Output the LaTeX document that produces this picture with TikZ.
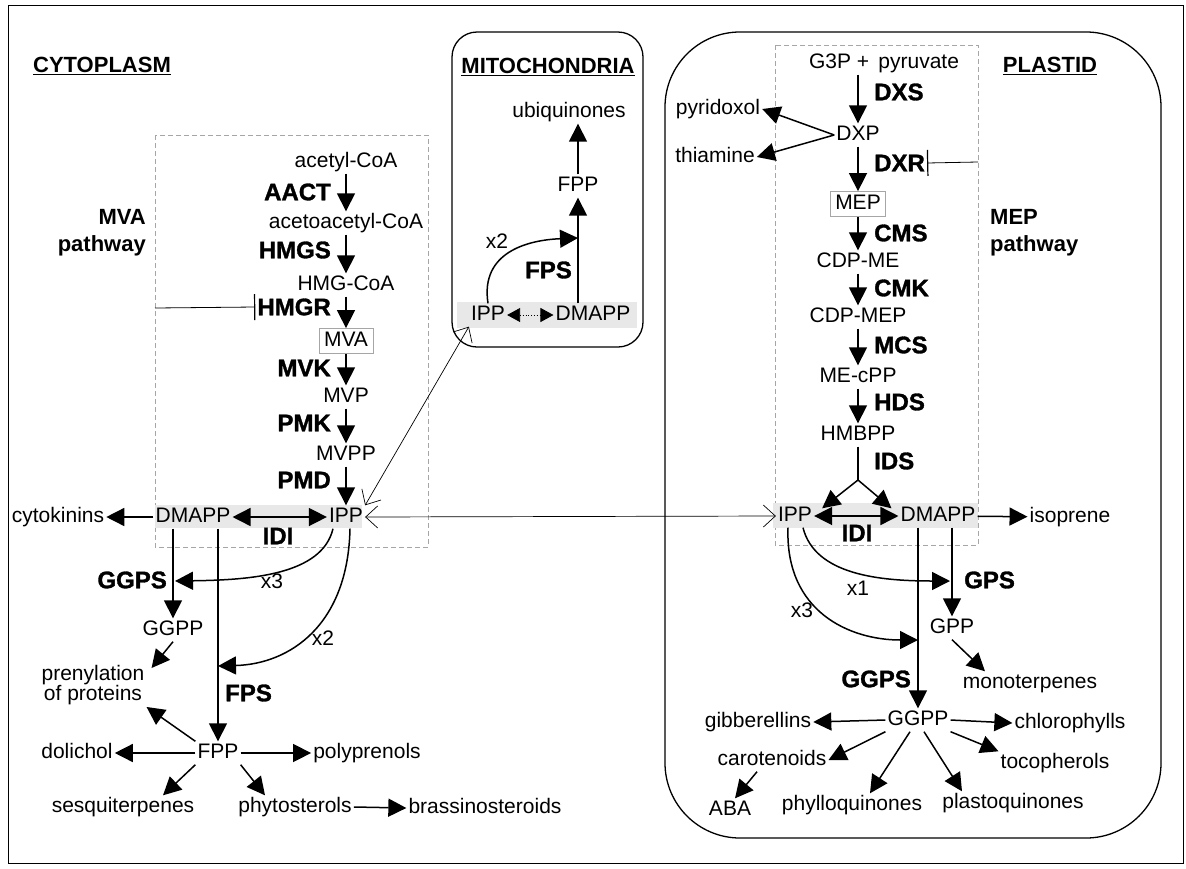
\documentclass[tikz,border=0pt]{standalone}
\usepackage{fontspec}
\setmainfont{Liberation Sans}
\newfontfamily\enzfont{Liberation Sans}[BoldFeatures={FakeBold=1.3}]
\usetikzlibrary{arrows.meta}
\tikzset{
	metnode/.style={
			inner sep=2pt,
			text height=15pt,
			text depth=4pt,
			font=\fontsize{21}{23}\selectfont
		},
	boxnode/.style={
			metnode,
			draw=gray!70,
			line width=0.8pt,
			inner xsep=5pt,
			inner ysep=3pt
		},
	twoline/.style={
			inner sep=2pt,
			align=center,
			font=\fontsize{21}{20}\selectfont
		},
	enznode/.style={
			inner sep=2pt,
			font=\fontsize{24}{26}\enzfont\bfseries
		},
	headnode/.style={
			inner sep=2pt,
			font=\fontsize{22}{24}\selectfont\bfseries
		},
	pathnode/.style={
			inner sep=2pt,
			font=\fontsize{22}{27}\selectfont\bfseries
		},
	steparrow/.style={
			-{Triangle[length=18pt,width=18pt]},
			line width=1.5pt
		},
	botharrow/.style={
			{Triangle[length=18pt,width=18pt]}-{Triangle[length=18pt,width=18pt]},
			line width=1.5pt
		},
	smallboth/.style={
			{Triangle[length=13pt,width=14pt]}-{Triangle[length=13pt,width=14pt]},
			line width=0.8pt
		},
	transport/.style={
			{Straight Barb[length=12pt,width=22pt]}-{Straight Barb[length=12pt,width=22pt]},
			line width=0.7pt
		},
	inhibit/.style={
			-{Bar[width=26pt,line width=1.2pt]},
			line width=0.8pt
		},
	compartment/.style={
			line width=1.3pt
		},
	pathbox/.style={
			draw=gray!70,
			line width=0.7pt,
			dash pattern=on 5pt off 3pt
		},
	poolband/.style={
			fill=gray!18
		}
}

\begin{document}
\begin{tikzpicture}[x=1pt, y=-1pt]
\useasboundingbox (0,0) rectangle (1186,868);

% frames and compartments
\draw[line width=1pt] (8,5) rectangle (1183,863);
\draw[compartment, rounded corners=25pt] (452,32) rectangle (643,347);
\draw[compartment, rounded corners=75pt] (665,32) rectangle (1161,838);
\draw[pathbox] (155,135) rectangle (428,547);
\draw[pathbox] (775,45) rectangle (978,545);
\fill[poolband] (155,505) rectangle (362,528);
\fill[poolband] (457,302) rectangle (637,328);
\fill[poolband] (773,503) rectangle (978,528);

\node (cyto) at (102,66) [headnode] {\underline{CYTOPLASM}};
\node (mito) at (548,67) [headnode] {\underline{MITOCHONDRIA}};
\node (plast) at (1050,66) [headnode] {\underline{PLASTID}};

% cytoplasm: MVA pathway
\node (mvapath) at (148,233) [pathnode, anchor=east, align=right] {MVA\\pathway};
\node (acoa) at (346,162) [metnode] {acetyl-CoA};
\node (aacoa) at (346,223) [metnode] {acetoacetyl-CoA};
\node (hmgcoa) at (346,285) [metnode] {HMG-CoA};
\node (mva) at (346,341) [boxnode] {MVA};
\node (mvp) at (346,397) [metnode] {MVP};
\node (mvpp) at (346,455) [metnode] {MVPP};
\node (cipp) at (346,517) [metnode] {IPP};
\node (cdmapp) at (193,517) [metnode] {DMAPP};
\node (cytok) at (58,517) [metnode] {cytokinins};

\node (aact) at (333,192) [enznode, anchor=east] {AACT};
\node (hmgs) at (333,250) [enznode, anchor=east] {HMGS};
\node (hmgr) at (333,307) [enznode, anchor=east] {HMGR};
\node (mvk) at (333,368) [enznode, anchor=east] {MVK};
\node (pmk) at (333,423) [enznode, anchor=east] {PMK};
\node (pmd) at (333,480) [enznode, anchor=east] {PMD};
\node (cidi) at (278,536) [enznode] {IDI};

\draw[steparrow] (acoa) -- (aacoa);
\draw[steparrow] (aacoa) -- (hmgcoa);
\draw[steparrow] (hmgcoa) -- (mva);
\draw[steparrow] (mva) -- (mvp);
\draw[steparrow] (mvp) -- (mvpp);
\draw[steparrow] (mvpp) -- (cipp);
\draw[botharrow] (cdmapp) -- (cipp);
\draw[steparrow] (cdmapp) -- (cytok);
\coordinate (hmgrin) at (155,308);
\draw[inhibit] (hmgrin) -- (hmgr.west);

% cytoplasm: prenyl products
\node (cggps) at (169,580) [enznode, anchor=east] {GGPS};
\node (cggpp) at (173,630) [metnode] {GGPP};
\node (prenyl) at (93,685) [twoline] {prenylation\\of proteins};
\node (cfps) at (223,693) [enznode, anchor=west] {FPS};
\node (cfpp) at (218,753) [metnode] {FPP};
\node (dolichol) at (77,753) [metnode] {dolichol};
\node (polypren) at (367,753) [metnode] {polyprenols};
\node (sesq) at (123,807) [metnode] {sesquiterpenes};
\node (phyto) at (295,807) [metnode] {phytosterols};
\node (brass) at (485,808) [metnode] {brassinosteroids};
\node (cx3) at (272,583) [metnode] {x3};
\node (cx2) at (323,640) [metnode] {x2};
\coordinate (cx3end) at (175,581);
\coordinate (cx2end) at (218,666);

\draw[steparrow] (cdmapp.south -| cggpp) -- (cggpp);
\draw[steparrow] (cdmapp.south -| cfpp) -- (cfpp);
\draw[steparrow] ([xshift=-13pt]cipp.south) .. controls (322,575) and (250,580) .. (cx3end);
\draw[steparrow] ([xshift=4pt]cipp.south) .. controls (348,625) and (290,664) .. (cx2end);
\draw[steparrow] (cggpp.south) -- ([xshift=5pt,yshift=-5pt]prenyl.north east);
\draw[steparrow] (cfpp.north west) -- (prenyl.south east);
\draw[steparrow] (cfpp.west) -- (dolichol.east);
\draw[steparrow] (cfpp.east) -- (polypren.west);
\draw[steparrow] (cfpp.south west) -- ([xshift=40pt]sesq.north);
\draw[steparrow] (cfpp.south east) -- ([xshift=-30pt]phyto.north);
\draw[steparrow] (phyto.east) -- (brass.west);

% mitochondria
\node (ubiq) at (569,112) [metnode] {ubiquinones};
\node (mfpp) at (578,186) [metnode] {FPP};
\node (mipp) at (488,315) [metnode] {IPP};
\node (mdmapp) at (593,315) [metnode] {DMAPP};
\node (mfps) at (574,270) [enznode, anchor=east] {FPS};
\node (mx2) at (497,243) [metnode] {x2};
\coordinate (mx2end) at (578,238);

\draw[steparrow] (mdmapp.north -| mfpp) -- (mfpp);
\draw[steparrow] (mfpp) -- (mfpp |- ubiq.south);
\draw[smallboth, dotted] (mipp) -- (mdmapp);
\draw[steparrow] (mipp.north) .. controls (480,252) and (528,240) .. (mx2end);

% plastid: MEP pathway
\node (meppath) at (988,233) [pathnode, anchor=west, align=left] {MEP\\pathway};
\node (g3p) at (884,63) [metnode] {G3P +\, pyruvate};
\node (dxp) at (858,135) [metnode] {DXP};
\node (pyr) at (718,109) [metnode] {pyridoxol};
\node (thia) at (715,157) [metnode] {thiamine};
\node (mep) at (858,204) [boxnode] {MEP};
\node (cdpme) at (858,262) [metnode] {CDP-ME};
\node (cdpmep) at (858,317) [metnode] {CDP-MEP};
\node (mecpp) at (858,377) [metnode] {ME-cPP};
\node (hmbpp) at (858,435) [metnode] {HMBPP};
\node (pipp) at (795,516) [metnode] {IPP};
\node (pdmapp) at (938,516) [metnode] {DMAPP};
\node (iso) at (1070,517) [metnode] {isoprene};

\node (dxs) at (872,92) [enznode, anchor=west] {DXS};
\node (dxr) at (872,163) [enznode, anchor=west] {DXR};
\node (cms) at (872,233) [enznode, anchor=west] {CMS};
\node (cmk) at (872,288) [enznode, anchor=west] {CMK};
\node (mcs) at (872,345) [enznode, anchor=west] {MCS};
\node (hds) at (872,402) [enznode, anchor=west] {HDS};
\node (ids) at (872,461) [enznode, anchor=west] {IDS};
\node (pidi) at (857,533) [enznode] {IDI};
\coordinate (dxrin) at (978,162);
\coordinate (fork) at (858,480);

\draw[steparrow] (dxp |- g3p.south) -- (dxp);
\draw[steparrow] (dxp.west) -- (pyr.east);
\draw[steparrow] (dxp.west) -- (thia.east);
\draw[steparrow] (dxp) -- (mep);
\draw[inhibit] (dxrin) -- (dxr.east);
\draw[steparrow] (mep) -- (cdpme);
\draw[steparrow] (cdpme) -- (cdpmep);
\draw[steparrow] (cdpmep) -- (mecpp);
\draw[steparrow] (mecpp) -- (hmbpp);
\draw[line width=1.5pt] (hmbpp) -- (fork);
\draw[steparrow] (fork) -- ([xshift=8pt,yshift=-4pt]pipp.north east);
\draw[steparrow] (fork) -- ([xshift=-7pt,yshift=-4pt]pdmapp.north west);
\draw[botharrow] (pipp) -- (pdmapp);
\draw[steparrow] (pdmapp) -- (iso);

% transport of IPP between compartments
\draw[transport] (mipp.south west) -- (cipp.north east);
\draw[transport] (cipp.east) -- (pipp.west);

% plastid: prenyl products
\node (pgps) at (962,580) [enznode, anchor=west] {GPS};
\node (pgpp) at (952,628) [metnode] {GPP};
\node (mono) at (1030,683) [metnode] {monoterpenes};
\node (pggps) at (913,679) [enznode, anchor=east] {GGPS};
\node (pggpp) at (918,720) [metnode] {GGPP};
\node (gibb) at (758,722) [metnode] {gibberellins};
\node (chloro) at (1070,723) [metnode] {chlorophylls};
\node (carot) at (772,760) [metnode] {carotenoids};
\node (toco) at (1055,763) [metnode] {tocopherols};
\node (phyllo) at (852,805) [metnode] {phylloquinones};
\node (plasto) at (1013,803) [metnode] {plastoquinones};
\node (aba) at (730,810) [metnode] {ABA};
\node (px1) at (858,590) [metnode] {x1};
\node (px3) at (802,612) [metnode] {x3};
\coordinate (px1end) at (950,581);
\coordinate (px3end) at (918,640);

\draw[steparrow] (pdmapp.south -| pgpp) -- (pgpp);
\draw[steparrow] (pdmapp.south -| pggpp) -- (pggpp);
\draw[steparrow] ([xshift=8pt]pipp.south) .. controls (815,575) and (880,581) .. (px1end);
\draw[steparrow] ([xshift=-7pt]pipp.south) .. controls (785,612) and (850,640) .. (px3end);
\draw[steparrow] (pgpp.south) -- ([xshift=-45pt]mono.north);
\draw[steparrow] (pggpp.west) -- (gibb.east);
\draw[steparrow] (pggpp.east) -- (chloro.west);
\draw[steparrow] (pggpp.south west) -- (carot.east);
\draw[steparrow] (pggpp.south east) -- (toco.north west);
\draw[steparrow] ([xshift=-8pt]pggpp.south) -- ([xshift=18pt]phyllo.north);
\draw[steparrow] ([xshift=6pt]pggpp.south) -- ([xshift=-51pt]plasto.north);
\draw[steparrow] ([xshift=-15pt]carot.south) -- ([xshift=5pt]aba.north);

\end{tikzpicture}
\end{document}
